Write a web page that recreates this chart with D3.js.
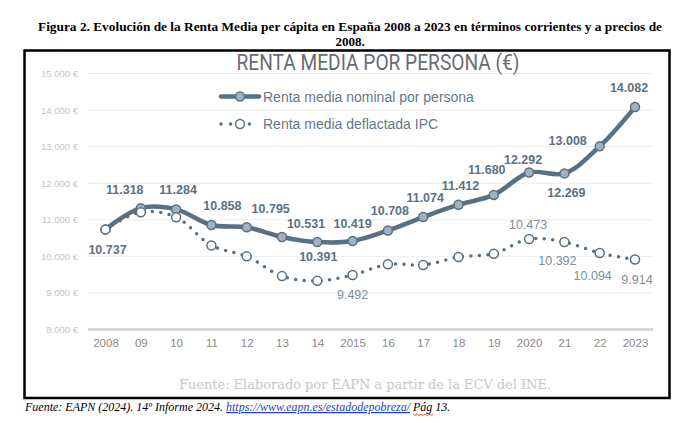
<!DOCTYPE html>
<html>
<head>
<meta charset="utf-8">
<style>
  body { margin: 0; background: #fff; }
  svg { display: block; }
</style>
</head>
<body>
<svg id="chart"></svg>
<script src="https://cdn.jsdelivr.net/npm/d3@7"></script>
<script>
// values
var years = [2008, 2009, 2010, 2011, 2012, 2013, 2014, 2015, 2016, 2017, 2018, 2019, 2020, 2021, 2022, 2023];
var yearLabels = ["2008", "09", "10", "11", "12", "13", "14", "2015", "16", "17", "18", "19", "2020", "21", "22", "2023"];
var nominal = [10737, 11318, 11284, 10858, 10795, 10531, 10391, 10419, 10708, 11074, 11412, 11680, 12292, 12269, 13008, 14082];
var deflated = [10737, 11207, 11071, 10300, 10000, 9460, 9330, 9492, 9782, 9764, 9982, 10073, 10473, 10392, 10094, 9914];
var deflatedLabelled = [2015, 2020, 2021, 2022, 2023];
var yTicks = [8000, 9000, 10000, 11000, 12000, 13000, 14000, 15000];
var seriesNames = ["Renta media nominal por persona", "Renta media deflactada IPC"];

// label placement (dx, dy from the point)
var nomOffsets = [[2, 25], [-16, -14], [2, -15], [11, -15], [24, -14], [24, -9], [1, 19], [0, -13],
                  [2, -15], [2, -15], [2, -15], [-7, -21], [-6, -9], [2, 24], [-32, -1], [-6, -15]];
var defOffsets = { 2015: [0, 24], 2020: [-1, -10], 2021: [-7, 23], 2022: [-7, 27], 2023: [2, 24] };

var width = 682, height = 423;
var lineColor = "#587082", nomLabel = "#5d7181", defLabel = "#7d8e9b";

var svg = d3.select("#chart").attr("width", width).attr("height", height);

var es = d3.formatLocale({ decimal: ",", thousands: ".", grouping: [3], currency: ["", "€"] });
var fmt = es.format(",d");

var x = d3.scalePoint().domain(years).range([105.5, 635]);
var y = d3.scaleLinear().domain([8000, 15000]).range([329.5, 73.5]);

// caption above the frame
svg.append("text")
    .attr("x", 350).attr("y", 31)
    .attr("text-anchor", "middle")
    .attr("textLength", 624).attr("lengthAdjust", "spacingAndGlyphs")
    .style("font-family", "'Liberation Serif', serif")
    .style("font-weight", "bold").style("font-size", "13px")
    .text("Figura 2. Evolución de la Renta Media per cápita en España 2008 a 2023 en términos corrientes y a precios de");
svg.append("text")
    .attr("x", 350).attr("y", 46)
    .attr("text-anchor", "middle")
    .style("font-family", "'Liberation Serif', serif")
    .style("font-weight", "bold").style("font-size", "13px")
    .text("2008.");

// gridlines
svg.append("g").selectAll("line")
    .data(yTicks)
    .enter().append("line")
    .attr("x1", 88).attr("x2", 653)
    .attr("y1", function(d) { return y(d); })
    .attr("y2", function(d) { return y(d); })
    .attr("stroke", function(d) { return d === 8000 ? "#d9d9d9" : "#ececec"; })
    .attr("stroke-width", function(d) { return d === 8000 ? 3 : 1; });

// y axis labels
svg.append("g").selectAll("text")
    .data(yTicks)
    .enter().append("text")
    .attr("x", 78)
    .attr("y", function(d) { return y(d) + 3.5; })
    .attr("text-anchor", "end")
    .style("font-family", "'Liberation Sans', Arial, sans-serif")
    .style("font-size", "9.5px")
    .attr("fill", "#c4c4c4")
    .text(function(d) { return fmt(d) + " €"; });

// x axis labels
var xAxis = d3.axisBottom(x).tickSize(0).tickFormat(function(d, i) { return yearLabels[i]; });
var xg = svg.append("g").attr("transform", "translate(0,336)").call(xAxis);
xg.select(".domain").remove();
xg.selectAll("text")
    .style("font-family", "'Liberation Sans', Arial, sans-serif")
    .style("font-size", "11.5px")
    .attr("fill", "#8a8a8a");

// title
svg.append("text")
    .attr("x", 378).attr("y", 70)
    .attr("text-anchor", "middle")
    .attr("textLength", 283).attr("lengthAdjust", "spacingAndGlyphs")
    .style("font-family", "Roboto, 'Liberation Sans', sans-serif")
    .style("font-weight", 400).style("font-size", "22px")
    .attr("fill", "#686c70")
    .text("RENTA MEDIA POR PERSONA (€)");

// lines
var line = d3.line().curve(d3.curveCatmullRom.alpha(0.5));

svg.append("path")
    .attr("d", line(years.map(function(yr, i) { return [x(yr), y(nominal[i])]; })))
    .attr("fill", "none").attr("stroke", lineColor)
    .attr("stroke-width", 4.5).attr("stroke-linejoin", "round");

svg.append("g").selectAll("circle")
    .data(nominal)
    .enter().append("circle")
    .attr("cx", function(d, i) { return x(years[i]); })
    .attr("cy", function(d) { return y(d); })
    .attr("r", 4.5)
    .attr("fill", "#a2b1c1").attr("stroke", lineColor).attr("stroke-width", 1.5);

svg.append("path")
    .attr("d", line(years.map(function(yr, i) { return [x(yr), y(deflated[i])]; })))
    .attr("fill", "none").attr("stroke", lineColor)
    .attr("stroke-width", 3.5).attr("stroke-linecap", "round")
    .attr("stroke-dasharray", "0 8.5");

svg.append("g").selectAll("circle")
    .data(deflated)
    .enter().append("circle")
    .attr("cx", function(d, i) { return x(years[i]); })
    .attr("cy", function(d) { return y(d); })
    .attr("r", 4.5)
    .attr("fill", "#fff").attr("stroke", lineColor).attr("stroke-width", 1.5);

// data labels
svg.append("g").selectAll("text")
    .data(nominal)
    .enter().append("text")
    .attr("x", function(d, i) { return x(years[i]) + nomOffsets[i][0]; })
    .attr("y", function(d, i) { return y(d) + nomOffsets[i][1]; })
    .attr("text-anchor", "middle")
    .style("font-family", "'Liberation Sans', Arial, sans-serif")
    .style("font-weight", "bold").style("font-size", "12.5px")
    .attr("fill", nomLabel)
    .text(function(d) { return fmt(d); });

svg.append("g").selectAll("text")
    .data(deflatedLabelled)
    .enter().append("text")
    .attr("x", function(yr) { return x(yr) + defOffsets[yr][0]; })
    .attr("y", function(yr) { return y(deflated[years.indexOf(yr)]) + defOffsets[yr][1]; })
    .attr("text-anchor", "middle")
    .style("font-family", "'Liberation Sans', Arial, sans-serif")
    .style("font-size", "12.5px")
    .attr("fill", defLabel)
    .text(function(yr) { return fmt(deflated[years.indexOf(yr)]); });

// legend
var lg = svg.append("g");
lg.append("line").attr("x1", 221).attr("x2", 259).attr("y1", 96.5).attr("y2", 96.5)
    .attr("stroke", lineColor).attr("stroke-width", 4.5).attr("stroke-linecap", "round");
lg.append("circle").attr("cx", 240).attr("cy", 96.5).attr("r", 4.5)
    .attr("fill", "#a2b1c1").attr("stroke", lineColor).attr("stroke-width", 1.5);
lg.append("line").attr("x1", 221).attr("x2", 259).attr("y1", 124).attr("y2", 124)
    .attr("stroke", lineColor).attr("stroke-width", 3.5).attr("stroke-linecap", "round")
    .attr("stroke-dasharray", "0 9.5");
lg.append("circle").attr("cx", 240).attr("cy", 124).attr("r", 4.5)
    .attr("fill", "#fff").attr("stroke", lineColor).attr("stroke-width", 1.5);
lg.selectAll("text.name")
    .data(seriesNames)
    .enter().append("text")
    .attr("class", "name")
    .attr("x", 263)
    .attr("y", function(d, i) { return 101.5 + i * 27.5; })
    .style("font-family", "'Liberation Sans', Arial, sans-serif")
    .style("font-size", "14px")
    .attr("fill", "#667888")
    .text(function(d) { return d; });

// source inside the frame
svg.append("text")
    .attr("x", 365).attr("y", 389)
    .attr("text-anchor", "middle")
    .attr("textLength", 372).attr("lengthAdjust", "spacingAndGlyphs")
    .style("font-family", "'DejaVu Serif', serif")
    .style("font-size", "13px")
    .attr("fill", "#c6c6c6")
    .text("Fuente: Elaborado por EAPN a partir de la ECV del INE.");

// frame
svg.append("rect")
    .attr("x", 24.5).attr("y", 50.5).attr("width", 645).attr("height", 347.5)
    .attr("fill", "none").attr("stroke", "#000").attr("stroke-width", 2.5);

// footnote
var foot = svg.append("text")
    .attr("x", 25).attr("y", 411)
    .style("font-family", "'Liberation Serif', serif")
    .style("font-style", "italic").style("font-size", "12px")
    .attr("fill", "#000");
var before = "Fuente: EAPN (2024). 14º Informe 2024. ";
var link = "https://www.eapn.es/estadodepobreza/";
foot.append("tspan").text(before);
foot.append("tspan").attr("fill", "#1f3fbf").style("text-decoration", "underline").text(link);
foot.append("tspan").text(" Pág 13.");

// red squiggle under "Pág"
var tnode = foot.node();
var start = tnode.getSubStringLength(0, before.length + link.length + 1);
var plen = tnode.getSubStringLength(before.length + link.length + 1, 3);
var sq = [];
for (var k = 0; k <= Math.round(plen / 2); k++) sq.push([25 + start + k * 2, 414 + (k % 2 ? 1.5 : 0)]);
svg.append("path").attr("d", d3.line()(sq)).attr("fill", "none")
    .attr("stroke", "#e0301e").attr("stroke-width", 0.8);
</script>
</body>
</html>
